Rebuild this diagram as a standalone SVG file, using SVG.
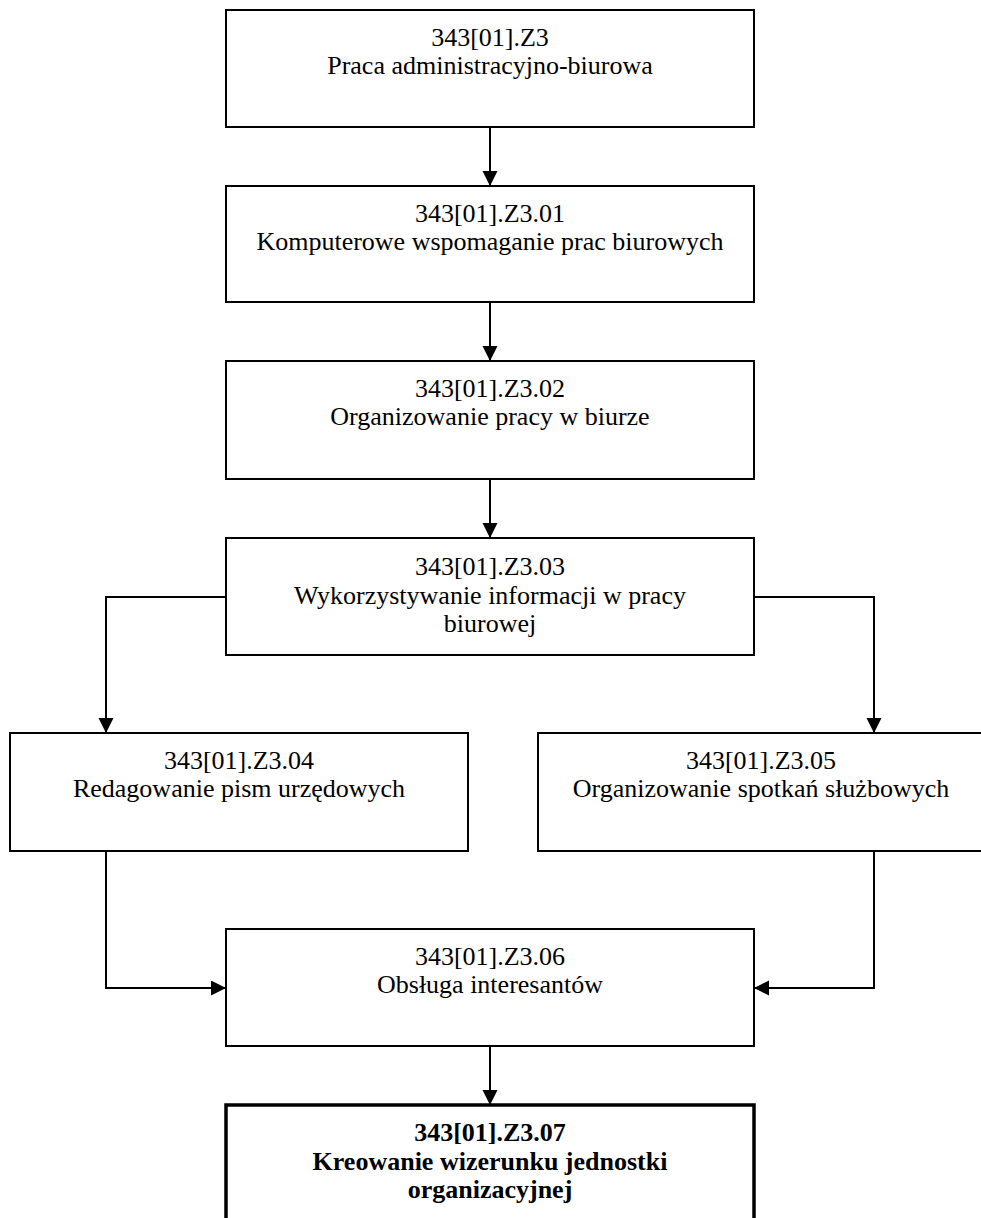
<svg xmlns="http://www.w3.org/2000/svg" width="981" height="1218" viewBox="0 0 981 1218">
<style>
.box{fill:#fff;stroke:#000;stroke-width:2}
.bold{fill:#fff;stroke:#000;stroke-width:3.5}
.t{font-family:"Liberation Serif","Times New Roman",serif;font-size:26px;fill:#000;text-anchor:middle}
.tb{font-weight:bold}
.c{fill:none;stroke:#000;stroke-width:2}
</style>
<defs>
<marker id="ah" markerUnits="userSpaceOnUse" markerWidth="16" markerHeight="16" refX="15" refY="7.5" orient="auto">
<path d="M0,0 L15,7.5 L0,15 Z" fill="#000"/>
</marker>
</defs>
<g id="connectors">
<path class="c" d="M490,127 V186" marker-end="url(#ah)"/>
<path class="c" d="M490,302 V361" marker-end="url(#ah)"/>
<path class="c" d="M490,479 V538" marker-end="url(#ah)"/>
<path class="c" d="M226,597 H106 V733" marker-end="url(#ah)"/>
<path class="c" d="M754,597 H874 V733" marker-end="url(#ah)"/>
<path class="c" d="M106,851 V988 H226" marker-end="url(#ah)"/>
<path class="c" d="M874,851 V988 H754" marker-end="url(#ah)"/>
<path class="c" d="M490,1046 V1105" marker-end="url(#ah)"/>
</g>
<g id="n1">
<rect class="box" x="226" y="10" width="528" height="117"/>
<text class="t" x="490" y="45.5">343[01].Z3</text>
<text class="t" x="490" y="74">Praca administracyjno-biurowa</text>
</g>
<g id="n2">
<rect class="box" x="226" y="186" width="528" height="116"/>
<text class="t" x="490" y="221.5">343[01].Z3.01</text>
<text class="t" x="490" y="250">Komputerowe wspomaganie prac biurowych</text>
</g>
<g id="n3">
<rect class="box" x="226" y="361" width="528" height="118"/>
<text class="t" x="490" y="396.5">343[01].Z3.02</text>
<text class="t" x="490" y="425">Organizowanie pracy w biurze</text>
</g>
<g id="n4">
<rect class="box" x="226" y="538" width="528" height="117"/>
<text class="t" x="490" y="575">343[01].Z3.03</text>
<text class="t" x="490" y="603.5">Wykorzystywanie informacji w pracy</text>
<text class="t" x="490" y="632">biurowej</text>
</g>
<g id="n5">
<rect class="box" x="10" y="733" width="458" height="118"/>
<text class="t" x="239" y="768.5">343[01].Z3.04</text>
<text class="t" x="239" y="797">Redagowanie pism urzędowych</text>
</g>
<g id="n6">
<rect class="box" x="538" y="733" width="450" height="118"/>
<text class="t" x="761" y="768.5">343[01].Z3.05</text>
<text class="t" x="761" y="797">Organizowanie spotkań służbowych</text>
</g>
<g id="n7">
<rect class="box" x="226" y="929" width="528" height="117"/>
<text class="t" x="490" y="964.5">343[01].Z3.06</text>
<text class="t" x="490" y="993">Obsługa interesantów</text>
</g>
<g id="n8">
<rect class="bold" x="226" y="1105" width="528" height="130"/>
<text class="t tb" x="490" y="1141">343[01].Z3.07</text>
<text class="t tb" x="490" y="1169.5">Kreowanie wizerunku jednostki</text>
<text class="t tb" x="490" y="1198">organizacyjnej</text>
</g>
</svg>
